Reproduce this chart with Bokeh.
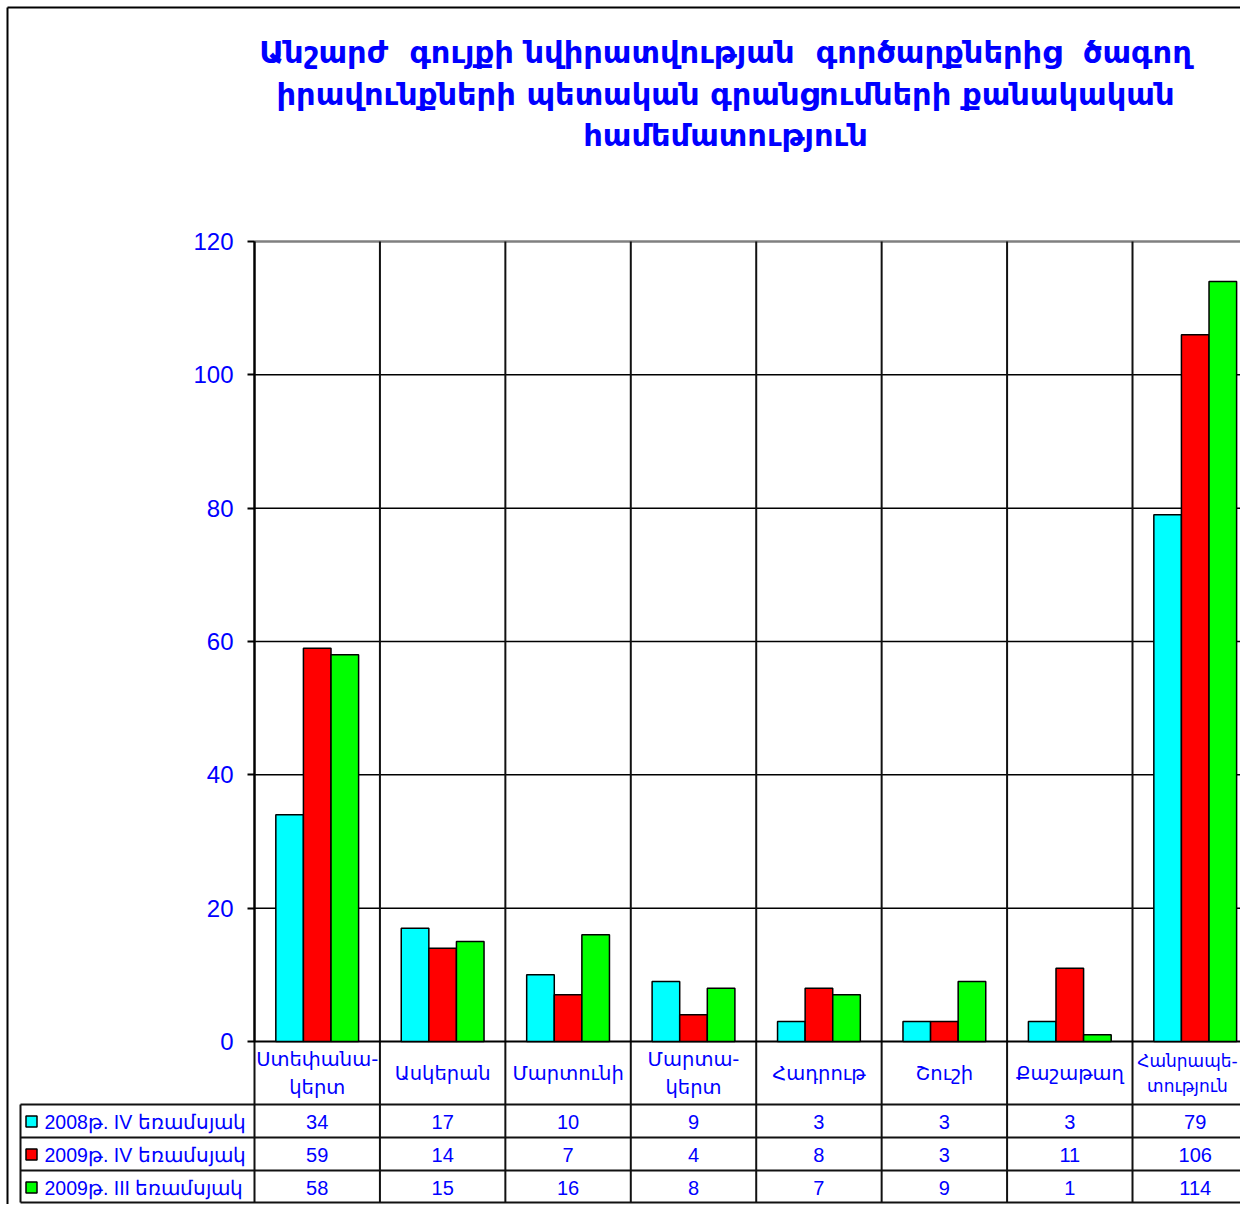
from bokeh.plotting import figure
from bokeh.models import Range1d, LinearAxis, FixedTicker, ColumnDataSource
from bokeh.core.properties import value
from bokeh.embed import file_html
from bokeh.resources import INLINE

# ---------------- data ----------------
title_lines = [
    "Անշարժ\u00a0 գույքի նվիրատվության\u00a0 գործարքներից\u00a0 ծագող",
    "իրավունքների պետական գրանցումների քանակական",
    "համեմատություն",
]
categories = ["Ստեփանա-\nկերտ", "Ասկերան", "Մարտունի", "Մարտա-\nկերտ",
              "Հադրութ", "Շուշի", "Քաշաթաղ", "Հանրապե-\nտություն"]
series_names = ["2008թ. IV եռամսյակ", "2009թ. IV եռամսյակ", "2009թ. III եռամսյակ"]
s2008_iv = [34, 17, 10, 9, 3, 3, 3, 79]
s2009_iv = [59, 14, 7, 4, 8, 3, 11, 106]
s2009_iii = [58, 15, 16, 8, 7, 9, 1, 114]
series_values = [s2008_iv, s2009_iv, s2009_iii]
series_colors = ["#00FFFF", "#FF0000", "#00FF00"]
y_ticks = [0, 20, 40, 60, 80, 100, 120]

# ---------------- geometry helpers (canvas pixels -> data) ----------------
W, H = 1240, 1204
PPX = 125.43            # pixels per category
PPY = 800.0 / 120.0     # pixels per unit
X0 = -254 / PPX
X1 = X0 + W / PPX
Y1 = 120 + 241 / PPY
Y0 = Y1 - H / PPY

def px(xp):
    return X0 + xp / PPX

def py(yp):
    return (1041 - yp) / PPY

N = len(categories)
BLUE = "#0000FF"
FONT = value("Liberation Sans")
AFONT = value("DejaVu Sans")

p = figure(width=W, height=H, output_backend="svg", toolbar_location=None,
           x_range=Range1d(X0, X1), y_range=Range1d(Y0, Y1),
           x_axis_location=None, y_axis_location=None,
           min_border=0, min_border_left=0, min_border_right=0,
           min_border_top=0, min_border_bottom=0)
p.xgrid.visible = False
p.ygrid.visible = False
p.outline_line_color = None
p.background_fill_color = "white"
p.border_fill_color = "white"

# outer frame (left + top)
p.segment(x0=[px(7), px(7)], y0=[Y0, py(7)], x1=[px(7), X1], y1=[py(7), py(7)],
          line_color="black", line_width=2)

# horizontal gridlines
p.segment(x0=[0] * 5, y0=y_ticks[1:6], x1=[X1] * 5, y1=y_ticks[1:6],
          line_color="black", line_width=1.5)
p.segment(x0=[0], y0=[120], x1=[X1], y1=[120], line_color="#808080", line_width=2.5)

# vertical category lines (chart + table)
ytab_bot = py(1202)
p.segment(x0=list(range(N + 1)), y0=[120] * (N + 1), x1=list(range(N + 1)), y1=[ytab_bot] * (N + 1),
          line_color="#111111", line_width=2)

# table horizontal lines
row_lines = [py(1104), py(1137), py(1170), ytab_bot]
p.segment(x0=[px(20)] * 4, y0=row_lines, x1=[X1] * 4, y1=row_lines,
          line_color="#111111", line_width=2)
p.segment(x0=[px(20)], y0=[py(1104)], x1=[px(20)], y1=[ytab_bot],
          line_color="#111111", line_width=2)
# baseline
p.segment(x0=[0], y0=[0], x1=[X1], y1=[0], line_color="black", line_width=2)

# bars
offsets = [-0.22, 0.0, 0.22]
for vals, col, off in zip(series_values, series_colors, offsets):
    src = ColumnDataSource(dict(x=[i + 0.5 + off for i in range(N)], top=vals))
    p.vbar(x="x", top="top", bottom=0, width=0.22, source=src,
           fill_color=col, line_color="black", line_width=1.5)

# y axis inside the frame at x=0
yax = LinearAxis(fixed_location=0, ticker=FixedTicker(ticks=y_ticks), bounds=(0, 120))
yax.axis_line_color = "black"
yax.axis_line_width = 2
yax.major_tick_line_color = "black"
yax.major_tick_line_width = 2
yax.major_tick_out = 7
yax.major_tick_in = 0
yax.minor_tick_line_color = None
yax.major_label_text_color = BLUE
yax.major_label_text_font = "Liberation Sans"
yax.major_label_text_font_size = "24px"
yax.major_label_standoff = 14
p.add_layout(yax, "left")

# category labels row (last one nudged/shrunk so it stays inside the canvas)
cat_x = [i + 0.5 for i in range(N)]
cat_x[-1] = px(1187)
cat_sizes = ["19.5px"] * N
cat_sizes[-1] = "17px"
cat_src = ColumnDataSource(dict(x=cat_x, y=[py(1073)] * N, t=categories, fs=cat_sizes))
p.text(x="x", y="y", text="t", source=cat_src, text_font_size="fs",
       text_align="center", text_baseline="middle", text_color=BLUE,
       text_font=AFONT, text_line_height=1.25)

# table values
row_centers = [py(1121), py(1154), py(1187)]
for vals, yc in zip(series_values, row_centers):
    p.text(x=[i + 0.5 for i in range(N)], y=[yc] * N, text=[str(v) for v in vals],
           text_align="center", text_baseline="middle", text_color=BLUE,
           text_font=FONT, text_font_size="20px")

# legend keys
p.scatter(x=[px(31)] * 3, y=row_centers, marker="square", size=11,
          fill_color=series_colors, line_color="black", line_width=1.5)
p.text(x=[px(44)] * 3, y=row_centers, text=series_names,
       text_align="left", text_baseline="middle", text_color=BLUE,
       text_font=FONT, text_font_size="19.5px")

# title
p.text(x=[px(725)] * 3, y=[py(52), py(94), py(135)], text=title_lines,
       text_align="center", text_baseline="middle", text_color=BLUE,
       text_font=AFONT, text_font_style="bold", text_font_size="30.5px")

open("out.html", "w").write(file_html(p, INLINE))
